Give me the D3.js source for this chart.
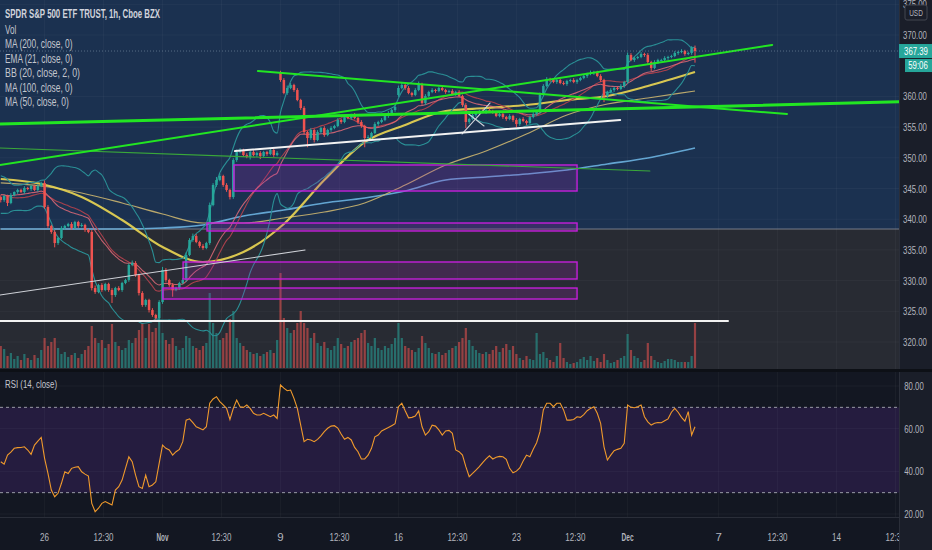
<!DOCTYPE html>
<html><head><meta charset="utf-8">
<script src="https://cdn.jsdelivr.net/npm/d3@7"></script>
<style>
body{margin:0;background:#131722;overflow:hidden}
svg{display:block}
text{font-family:"Liberation Sans","Open Sans",sans-serif}
</style></head><body>
<svg id="c" width="932" height="550"></svg>
<script>
// ---------------- DATA ----------------
const priorCloses=[346.2,345.8,346.5,347.0,346.1,344.9,343.8,344.5,343.0,342.1,341.6,342.4,343.5,344.8,345.5,344.2,343.1,342.0,342.8,343.6];
const closes=[
343.13,343.78,342.64,343.94,344.43,344.76,344.43,345.08,344.92,345.41,
344.76,345.41,345.90,341.99,338.89,337.92,336.12,336.94,338.57,338.89,
339.22,338.57,339.54,338.89,339.06,338.24,337.92,328.79,328.14,329.28,
328.47,329.45,328.47,327.65,328.79,328.47,329.61,330.10,332.54,332.87,
330.91,327.98,326.03,326.84,325.21,324.40,323.91,326.51,331.73,330.10,
329.28,328.47,328.79,329.61,330.10,334.17,336.61,337.26,336.29,335.64,
335.31,336.12,342.31,345.57,346.38,347.04,345.57,344.76,343.62,349.64,
350.94,351.27,350.45,350.13,350.94,350.45,350.78,350.29,350.94,350.62,
351.27,350.45,350.78,362.67,360.55,361.37,361.86,361.04,359.41,358.11,
354.20,353.22,354.53,352.90,354.20,354.85,353.71,354.53,354.85,355.18,
356.16,355.83,356.64,356.48,356.97,356.48,355.83,355.18,353.22,353.39,
354.04,355.50,355.83,356.16,356.81,357.30,357.78,358.27,361.37,361.86,
361.37,360.55,360.23,361.04,362.02,358.93,360.07,360.72,361.04,360.88,
361.37,361.04,360.72,360.88,360.39,360.72,360.07,358.60,355.83,356.32,
356.97,357.30,357.62,357.46,357.78,357.62,357.46,356.81,357.13,356.64,
356.32,356.81,356.16,355.50,356.32,355.99,355.67,356.64,357.13,357.46,
360.23,361.69,362.83,362.67,362.35,362.67,362.18,362.02,362.51,362.67,
362.35,362.67,363.00,363.32,363.65,363.81,363.97,363.32,362.67,360.07,
360.72,361.04,361.37,361.21,361.69,362.35,366.74,365.93,366.25,366.42,
366.91,366.74,365.60,364.63,365.60,365.93,365.93,366.25,366.42,366.58,
367.07,367.23,367.39,366.91,367.07,367.88,367.39];
const gapOpens=[[83,363.97],[118,360.23]];
// wick lengths in tenths of a dollar
const wickUp=[
3,2,2,3,1,2,2,3,2,2, 2,3,2,4,3,2,3,2,3,2, 2,3,2,2,3,2,2,3,4,2, 3,2,2,3,2,3,2,2,3,4,
3,2,3,2,2,3,2,3,5,3, 2,3,2,2,3,4,3,4,3,2, 3,2,4,3,5,4,2,3,2,3, 4,3,2,3,2,3,2,3,2,2,
3,2,3,2,3,4,3,2,3,2, 3,2,3,2,3,2,3,2,3,2, 3,2,3,2,2,3,2,3,2,3, 2,3,2,3,2,3,2,3,4,3,
2,3,2,3,4,2,3,2,3,2, 2,3,2,2,3,2,3,2,3,2, 3,2,2,3,2,3,2,2,3,2, 2,3,2,3,2,3,2,2,3,2,
4,3,3,2,3,2,2,3,2,2, 3,2,2,3,2,4,2,2,3,2, 2,3,2,2,3,2,4,3,2,2, 3,2,3,2,3,2,2,3,2,2,
3,2,3,2,2,3,4];
const wickDn=[
4,3,5,2,2,3,2,3,2,3, 2,3,2,3,3,3,7,3,2,3, 2,3,2,3,2,3,2,4,3,2, 3,2,3,13,3,2,3,2,3,2,
3,4,3,3,4,3,3,3,3,3, 3,11,2,3,2,3,2,3,2,3, 3,2,3,2,3,2,3,3,4,3, 3,2,3,2,4,2,3,5,2,3,
2,3,2,3,2,3,2,3,2,3, 4,15,3,4,2,3,3,2,3,2, 2,3,2,2,3,2,3,3,15,3, 3,2,3,2,2,3,2,3,3,2,
3,2,3,2,2,3,3,2,2,3, 2,2,3,2,2,3,2,3,10,3, 2,3,2,2,3,2,3,2,2,3, 3,2,3,5,3,2,3,2,2,3,
3,2,2,3,2,3,2,2,3,2, 2,3,2,2,3,2,3,2,3,10, 3,2,3,2,2,3,3,2,3,2, 2,3,3,5,2,3,2,2,3,2,
2,3,2,3,2,3,19];
const volumes=[
22,19,12,15,9,12,8,14,10,8,13,10,18,
30,22,26,30,20,14,16,11,13,15,10,14,18,22,
42,30,25,28,20,24,44,26,22,18,20,
28,25,30,38,45,30,44,36,40,65,
35,28,24,30,22,18,20,32,30,22,20,18,22,25,
75,45,35,28,30,35,49,57,30,25,22,18,16,14,15,12,14,16,18,15,28,
95,50,40,35,38,45,57,45,40,30,35,25,22,26,20,18,22,30,24,20,22,26,28,30,35,38,25,22,30,20,18,22,20,24,30,
45,30,22,20,18,16,20,32,25,20,15,14,16,13,15,18,20,22,26,30,
40,28,22,18,15,14,16,14,18,22,16,20,24,18,22,
14,10,8,12,9,8,35,14,16,10,8,6,12,25,10,6,4,5,6,9,11,8,12,7,10,6,14,8,5,6,8,10,12,34,18,12,10,6,8,25,12,8,6,5,7,9,9,8,6,6,6,6,12,45];
const rsi=[
44.5,43.4,47.6,49.0,50.8,51.1,51.2,51.5,50.0,48.0,
52.3,54.2,55.9,46.1,39.0,31.2,28.1,29.7,34.4,39.8,
39.0,41.4,41.9,42.2,39.8,38.7,37.8,25.0,21.1,22.7,
25.0,25.8,25.0,24.2,31.2,32.8,35.9,41.4,46.8,44.5,
38.2,32.8,32.0,38.2,32.8,33.6,35.1,43.7,52.3,50.8,
50.0,47.6,49.2,50.3,53.9,64.0,64.6,62.8,60.9,60.2,
59.4,60.9,71.9,73.9,75.0,72.7,71.1,69.5,64.3,69.5,
73.4,70.3,70.0,71.1,69.5,67.2,66.4,66.4,67.2,66.4,
65.6,66.4,64.8,80.5,79.0,77.8,78.1,74.2,69.5,61.7,
53.9,55.0,54.7,53.9,55.0,56.6,58.6,60.2,61.2,61.4,
60.3,57.5,55.0,55.9,54.7,51.2,49.2,45.8,45.8,47.6,
50.8,56.2,57.0,58.9,59.7,60.5,61.4,62.3,70.3,71.9,
68.4,65.1,65.3,65.9,68.3,60.9,57.0,58.6,61.6,61.2,
59.4,57.0,58.9,59.2,57.8,50.0,49.2,47.6,42.2,37.5,
39.0,40.6,42.2,44.1,45.8,47.3,45.8,46.6,47.0,46.8,
45.6,41.4,39.3,40.1,41.6,44.8,47.6,46.8,50.3,53.4,
58.6,68.8,71.9,71.9,70.3,71.9,71.9,68.8,64.0,64.0,
64.3,65.6,65.3,66.6,68.4,69.5,70.3,67.2,62.5,51.5,
45.3,47.6,49.7,50.3,50.8,53.1,71.1,70.0,69.8,70.3,
71.1,65.6,63.2,61.7,62.5,62.9,62.8,63.7,64.6,67.7,
69.5,67.7,65.3,63.5,68.0,57.0,60.9];
// moving averages at these bar indices
const maKnotIdx=[0,12,24,36,48,60,72,84,96,108,120,132,144,156,168,180,192,206];
const ma200=[338.4,338.4,338.4,338.4,338.57,339.06,340.52,341.5,342.64,343.45,344.59,346.38,346.87,347.36,348.01,348.99,349.97,351.6];
const ma100=[345.9,345.41,344.27,342.64,340.85,339.38,339.38,340.2,341.17,342.64,345.57,348.83,351.11,353.88,356.97,358.76,359.74,360.88];
const ma50=[346.55,345.73,343.62,339.87,335.47,333.03,334.66,339.22,346.38,352.57,355.34,357.62,358.11,358.6,359.41,360.07,361.69,363.97];
const lastPrice=367.39;
const countdown="59:06";
const priceTicks=[320,325,330,335,340,345,350,355,360,370,375];
const rsiTicks=[20,40,60,80];
const rsiBands=[30,70];
const timeTickIdx=[13,30.5,48,65.5,83,100.5,118,135.5,153,170.5,186,213,230.5,248,265.5];
const timeTickLabels=["26","12:30","Nov","12:30","9","12:30","16","12:30","23","12:30","Dec","7","12:30","14","12:30"];
const legendTitle="SPDR S&P 500 ETF TRUST, 1h, Cboe BZX";
const legendItems=["Vol","MA (200, close, 0)","EMA (21, close, 0)","BB (20, close, 2, 0)","MA (100, close, 0)","MA (50, close, 0)"];
const rsiLegend="RSI (14, close)";
// drawings: [barIndex, price] anchors
const blueZoneFloor=338.4;
const greenLines=[[[-0.3,355.5],[276.3,359.25]],[[-0.3,348.83],[228.9,368.37]],[[76.3,364.14],[233.3,357.13]]];
const thinGreenLines=[[[-0.3,351.6],[192.6,347.85]]];
const whiteLines=[[[69.5,351.1],[183.8,356.16]],[[-0.3,323.42],[215.8,323.42]]];
const thinWhiteLines=[[[-0.3,327.65],[90.3,334.98]],[[136.9,353.88],[145.2,358.93]],[[138.1,357.46],[143.4,355.18]]];
const zones=[[69.2,171,344.59,348.83],[61.2,171,338.08,339.38],[54.1,171,330.26,333.03],[48.1,171,327.0,328.79]];

// ---------------- LAYOUT / STYLE ----------------
const W=932,H=550,paneR=899,mainBot=369,rsiTop=372,rsiBot=517;
const C={bgDark:"#131722",gray:"#282b33",blue:"#1b3150",up:"#26a69a",down:"#ef5350",
  axisText:"#b2b5be",ma200:"#6cb2e0",ma100:"#cbb56f",ma50:"#ecd752",ema:"#e06a78",bbMid:"#a8404c",bb:"#2a8f95",
  green:"#22e622",thinGreen:"#3aa83a",zoneStroke:"#c51fdb",rsi:"#f09a2c",rsiBand:"#251c3f"};
const CHAR_W=4.0; // narrow TradingView-like glyph advance

const svg=d3.select("#c");
const x=d3.scaleLinear().domain([0,closes.length-1]).range([0.78,695]);
const y=d3.scaleLinear().domain([320,370]).range([342,35]);
const yV=d3.scaleLinear().domain([0,100]).range([368,268]);
const yR=d3.scaleLinear().domain([20,80]).range([514,386]);

function fit(sel,w){sel.attr("textLength",w).attr("lengthAdjust","spacingAndGlyphs");return sel;}
// narrow axis label: drawn at origin then squeezed horizontally with a transform
function axisLabel(parent,cx,cy,str,sx,fill){
  return parent.append("text").attr("transform",`translate(${cx},${cy}) scale(${sx},1)`)
    .attr("text-anchor","middle").attr("fill",fill).attr("font-size",10).text(str);
}

const defs=svg.append("defs");
defs.append("clipPath").attr("id","mainClip").append("rect").attr("x",0).attr("y",0).attr("width",paneR).attr("height",mainBot);
defs.append("clipPath").attr("id","rsiClip").append("rect").attr("x",0).attr("y",rsiTop).attr("width",paneR).attr("height",rsiBot-rsiTop);

svg.append("rect").attr("width",W).attr("height",H).attr("fill",C.bgDark);
const main=svg.append("g").attr("clip-path","url(#mainClip)");
main.append("rect").attr("width",paneR).attr("height",mainBot).attr("fill",C.gray);
main.append("rect").attr("x",0).attr("y",0).attr("width",paneR).attr("height",y(blueZoneFloor)).attr("fill",C.blue);

// grid
main.selectAll(".hg").data(priceTicks).join("line").attr("x1",0).attr("x2",paneR)
  .attr("y1",d=>y(d)).attr("y2",d=>y(d)).attr("stroke","rgba(255,255,255,0.035)");
main.selectAll(".vg").data(timeTickIdx).join("line").attr("x1",d=>x(d)).attr("x2",d=>x(d))
  .attr("y1",0).attr("y2",mainBot).attr("stroke","rgba(255,255,255,0.035)");
main.append("line").attr("x1",0).attr("x2",paneR).attr("y1",y(blueZoneFloor)).attr("y2",y(blueZoneFloor))
  .attr("stroke","#8d919c").attr("stroke-width",1).attr("opacity",0.8);

// derived OHLC
const P=priorCloses.length;
const opens=closes.map((c,i)=>i===0?priorCloses[P-1]:closes[i-1]);
gapOpens.forEach(([i,v])=>opens[i]=v);
const highs=closes.map((c,i)=>Math.max(opens[i],c)+wickUp[i]/10);
const lows=closes.map((c,i)=>Math.min(opens[i],c)-wickDn[i]/10);
const isUp=i=>closes[i]>=opens[i];

// volume
main.selectAll(".vol").data(volumes).join("rect")
  .attr("x",(d,i)=>x(i)-1.1).attr("width",2.2).attr("y",d=>yV(d)).attr("height",d=>yV(0)-yV(d))
  .attr("fill",(d,i)=>isUp(i)?C.up:C.down).attr("opacity",0.55);

// indicators
const all=priorCloses.concat(closes);
const ema=[];{let e=all[0];const k=2/22;all.forEach((c,j)=>{e=j===0?c:c*k+e*(1-k);if(j>=P)ema.push(e);});}
const bbMid=[],bbUp=[],bbLo=[];
closes.forEach((c,i)=>{const j=i+P;const w=all.slice(j-19,j+1);const m=d3.mean(w);const sd=Math.sqrt(d3.mean(w,v=>(v-m)*(v-m)));bbMid.push(m);bbUp.push(m+2*sd);bbLo.push(m-2*sd);});
const serLine=d3.line().x((d,i)=>x(i)).y(d=>y(d)).curve(d3.curveMonotoneX);
const knotLine=d3.line().x((d,i)=>x(maKnotIdx[i])).y(d=>y(d)).curve(d3.curveMonotoneX);
[[ma200,C.ma200,1.6],[ma100,C.ma100,1.2],[ma50,C.ma50,2.2]].forEach(([s,col,w])=>
  main.append("path").attr("d",knotLine(s)).attr("fill","none").attr("stroke",col).attr("stroke-width",w).attr("opacity",0.9));
main.append("path").attr("d",serLine(bbUp)).attr("fill","none").attr("stroke",C.bb).attr("stroke-width",1.1);
main.append("path").attr("d",serLine(bbLo)).attr("fill","none").attr("stroke",C.bb).attr("stroke-width",1.1);
main.append("path").attr("d",serLine(bbMid)).attr("fill","none").attr("stroke",C.bbMid).attr("stroke-width",1.1);
main.append("path").attr("d",serLine(ema)).attr("fill","none").attr("stroke",C.ema).attr("stroke-width",1.1).attr("opacity",0.85);

// candles
const cg=main.append("g");
cg.selectAll(".wick").data(closes).join("line")
  .attr("x1",(d,i)=>x(i)).attr("x2",(d,i)=>x(i)).attr("y1",(d,i)=>y(highs[i])).attr("y2",(d,i)=>y(lows[i]))
  .attr("stroke",(d,i)=>isUp(i)?C.up:C.down).attr("stroke-width",1);
cg.selectAll(".body").data(closes).join("rect")
  .attr("x",(d,i)=>x(i)-1.25).attr("width",2.5)
  .attr("y",(d,i)=>y(Math.max(opens[i],d)))
  .attr("height",(d,i)=>Math.max(1,Math.abs(y(opens[i])-y(d))))
  .attr("fill",(d,i)=>isUp(i)?C.up:C.down);

// drawings
main.selectAll(".zone").data(zones).join("rect")
  .attr("x",d=>x(d[0])).attr("width",d=>x(d[1])-x(d[0]))
  .attr("y",d=>y(d[3])).attr("height",d=>y(d[2])-y(d[3]))
  .attr("fill","rgba(156,39,176,0.22)").attr("stroke",C.zoneStroke).attr("stroke-width",1.4);
function seg(g,data,col,w){g.selectAll(null).data(data).join("line")
  .attr("x1",d=>x(d[0][0])).attr("y1",d=>y(d[0][1])).attr("x2",d=>x(d[1][0])).attr("y2",d=>y(d[1][1]))
  .attr("stroke",col).attr("stroke-width",w).attr("stroke-linecap","round");}
seg(main,thinGreenLines,C.thinGreen,1.2);
seg(main,thinWhiteLines,"#cfd2d8",1.1);
seg(main,whiteLines,"#f2f2f2",2);
seg(main,greenLines.slice(1),C.green,2);
seg(main,greenLines.slice(0,1),C.green,3);

// last price line
main.append("line").attr("x1",0).attr("x2",paneR).attr("y1",y(lastPrice)).attr("y2",y(lastPrice))
  .attr("stroke","#7f93a8").attr("stroke-width",1).attr("stroke-dasharray","1,2").attr("opacity",0.6);

// legend
fit(svg.append("text").attr("x",5).attr("y",18).attr("fill","#d1d4dc").attr("font-size",12).attr("font-weight","bold").text(legendTitle),155);
svg.selectAll(".leg").data(legendItems).join("text").attr("x",5).attr("y",(d,i)=>33.5+i*14.5)
  .attr("fill","#c3c6ce").attr("font-size",12.5).text(d=>d)
  .each(function(d){fit(d3.select(this),d.length*3.75);});

// separators
svg.append("rect").attr("x",0).attr("y",mainBot).attr("width",W).attr("height",rsiTop-mainBot).attr("fill","#0d1016");

// RSI pane
const rg=svg.append("g").attr("clip-path","url(#rsiClip)");
rg.append("rect").attr("x",0).attr("y",rsiTop).attr("width",paneR).attr("height",rsiBot-rsiTop).attr("fill",C.bgDark);
rg.append("rect").attr("x",0).attr("width",paneR).attr("y",yR(rsiBands[1])).attr("height",yR(rsiBands[0])-yR(rsiBands[1])).attr("fill",C.rsiBand);
rg.selectAll(".rg").data(rsiTicks).join("line").attr("x1",0).attr("x2",paneR).attr("y1",d=>yR(d)).attr("y2",d=>yR(d)).attr("stroke","rgba(255,255,255,0.04)");
rg.selectAll(".rv").data(timeTickIdx).join("line").attr("x1",d=>x(d)).attr("x2",d=>x(d)).attr("y1",rsiTop).attr("y2",rsiBot).attr("stroke","rgba(255,255,255,0.035)");
rg.selectAll(".rb").data(rsiBands).join("line").attr("x1",0).attr("x2",paneR).attr("y1",d=>yR(d)).attr("y2",d=>yR(d))
  .attr("stroke","#9a9ca6").attr("stroke-dasharray","3,3").attr("stroke-width",1);
rg.append("path").attr("d",d3.line().x((d,i)=>x(i)).y(d=>yR(d))(rsi)).attr("fill","none").attr("stroke",C.rsi).attr("stroke-width",1.1);
fit(svg.append("text").attr("x",5).attr("y",387.5).attr("fill","#c3c6ce").attr("font-size",11.5).text(rsiLegend),52);

// time axis
svg.append("line").attr("x1",0).attr("x2",W).attr("y1",rsiBot+0.5).attr("y2",rsiBot+0.5).attr("stroke","#2a2e39");
svg.selectAll(".tl").data(timeTickLabels).join("text").attr("x",(d,i)=>x(timeTickIdx[i])).attr("y",541)
  .attr("text-anchor","middle").attr("fill",C.axisText).attr("font-size",11.5)
  .attr("font-weight",d=>(d==="Nov"||d==="Dec")?"bold":"normal").text(d=>d)
  .each(function(d){if(d.length>1)fit(d3.select(this),d.length*CHAR_W+(d.length===2?1:0));});

// price axis
svg.append("rect").attr("x",paneR).attr("y",0).attr("width",W-paneR).attr("height",H).attr("fill","#1a1e29");
svg.append("line").attr("x1",paneR+0.5).attr("x2",paneR+0.5).attr("y1",0).attr("y2",H).attr("stroke","#2a2e39");
svg.append("rect").attr("x",paneR).attr("y",mainBot).attr("width",W-paneR).attr("height",rsiTop-mainBot).attr("fill","#0d1016");
const axG=svg.append("g");
priceTicks.forEach(d=>axisLabel(axG,915,y(d)+4,d.toFixed(2),0.78,C.axisText));
rsiTicks.forEach(d=>axisLabel(axG,914,yR(d)+4,d.toFixed(2),0.78,C.axisText));
// USD box
svg.append("rect").attr("x",905).attr("y",5).attr("width",22).attr("height",15).attr("rx",2).attr("fill","#1a1e29").attr("stroke","#434651");
axisLabel(svg,916,16,"USD",0.72,C.axisText).attr("font-size",9);
// last price tag
svg.append("rect").attr("x",paneR).attr("y",y(lastPrice)-7).attr("width",W-paneR).attr("height",14).attr("fill",C.up);
axisLabel(svg,916,y(lastPrice)+4,lastPrice.toFixed(2),0.78,"#fff");
svg.append("rect").attr("x",905).attr("y",y(lastPrice)+8).attr("width",W-905).attr("height",13).attr("fill",C.up);
axisLabel(svg,918,y(lastPrice)+18,countdown,0.78,"#fff");
</script></body></html>
